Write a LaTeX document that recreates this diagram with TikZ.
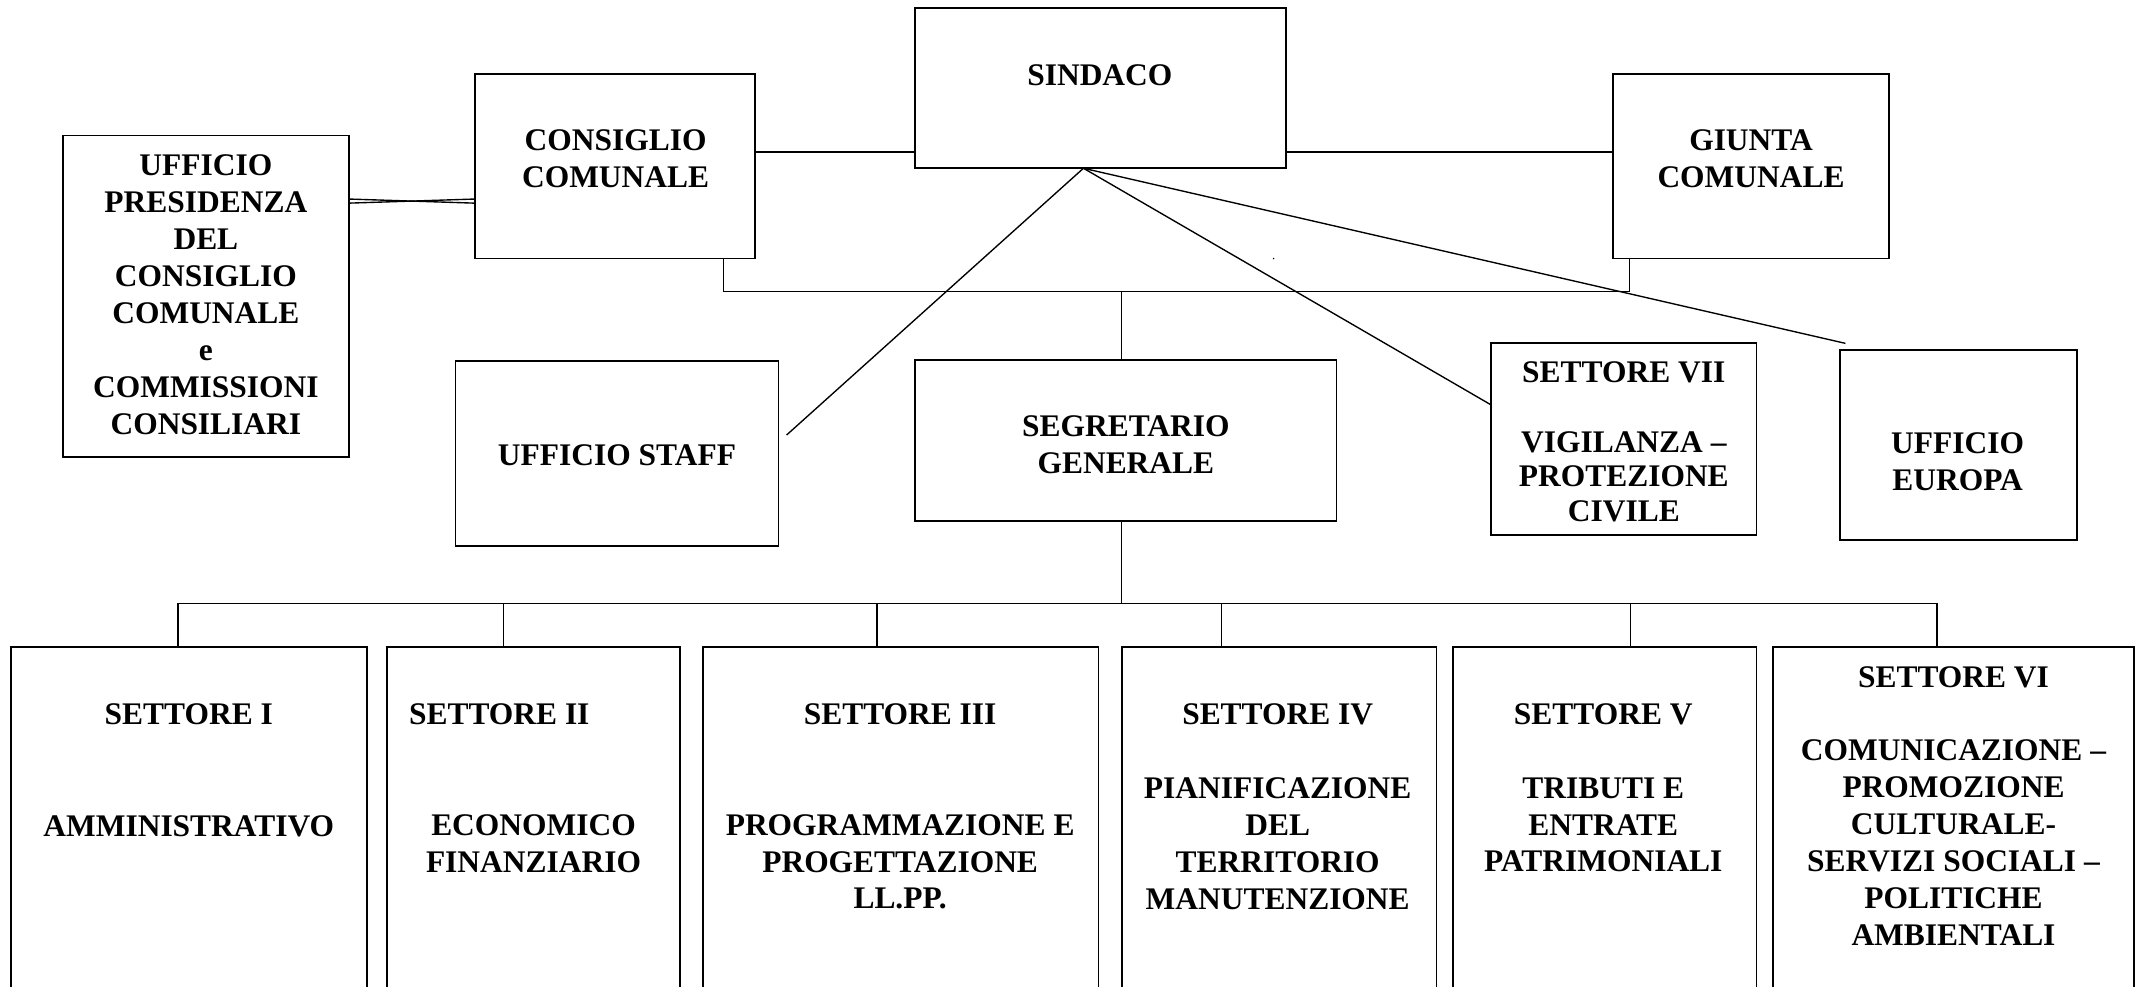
\documentclass[tikz,border=0pt]{standalone}
\usepackage{fontspec}
\setmainfont{Liberation Serif}
\usetikzlibrary{calc}
\begin{document}
\begin{tikzpicture}[x=1pt,y=-1pt,
  box/.style={draw=black,line width=1.3pt,rectangle,inner sep=0pt,outer sep=0pt,anchor=north west},
  txt/.style={font=\fontsize{23}{27}\selectfont\bfseries,align=center,inner sep=0pt},
  txtb/.style={font=\fontsize{23}{25.5}\selectfont\bfseries,align=center,inner sep=0pt},
  conn/.style={draw=black,line width=1pt}]
\clip (0,0) rectangle (1568,721.5);
\fill[white] (0,0) rectangle (1568,721.5);
% boxes
\node[box,minimum width=271pt,minimum height=117pt] (sindaco) at (669,6) {};
\node[box,minimum width=205pt,minimum height=135pt] (consiglio) at (347,54) {};
\node[box,minimum width=202pt,minimum height=135pt] (giunta) at (1179,54) {};
\node[box,minimum width=209pt,minimum height=235pt] (presidenza) at (46,99) {};
\node[box,minimum width=236pt,minimum height=135pt] (staff) at (333,264) {};
\node[box,minimum width=308pt,minimum height=118pt] (segretario) at (669,263) {};
\node[box,minimum width=194pt,minimum height=140pt] (s7) at (1090,251) {};
\node[box,minimum width=173pt,minimum height=139pt] (europa) at (1345,256) {};
\node[box,minimum width=260pt,minimum height=287pt] (s1) at (8,473) {};
\node[box,minimum width=214pt,minimum height=287pt] (s2) at (283,473) {};
\node[box,minimum width=289pt,minimum height=287pt] (s3) at (514,473) {};
\node[box,minimum width=230pt,minimum height=287pt] (s4) at (820,473) {};
\node[box,minimum width=222pt,minimum height=287pt] (s5) at (1062,473) {};
\node[box,minimum width=264pt,minimum height=287pt] (s6) at (1296,473) {};
% texts
\node[txt] (tsind) at (804,55) {SINDACO};
\node[txt] (tcons) at (450,116) {CONSIGLIO\\COMUNALE};
\node[txt] (tgiun) at (1280,116) {GIUNTA\\COMUNALE};
\node[txt] (tpres) at (150.5,215.5) {UFFICIO\\PRESIDENZA\\DEL\\CONSIGLIO\\COMUNALE\\e\\COMMISSIONI\\CONSILIARI};
\node[txt] (tstaff) at (451,333) {UFFICIO STAFF};
\node[txt] (tseg) at (823,325) {SEGRETARIO\\GENERALE};
\node[txt] (ts7h) at (1187,272) {SETTORE VII};
\node[txtb] (ts7b) at (1187,348.5) {VIGILANZA –\\PROTEZIONE\\CIVILE};
\node[txt] (teur) at (1431,337.5) {UFFICIO\\EUROPA};
\node[txt] (ts1h) at (138,522) {SETTORE I};
\node[txt] (ts1b) at (138,604) {AMMINISTRATIVO};
\node[txt] (ts2h) at (365,522) {SETTORE II};
\node[txt] (ts2b) at (390,616.5) {ECONOMICO\\FINANZIARIO};
\node[txt] (ts3h) at (658,522) {SETTORE III};
\node[txt] (ts3b) at (658,630) {PROGRAMMAZIONE E\\PROGETTAZIONE\\LL.PP.};
\node[txt] (ts4h) at (934,522) {SETTORE IV};
\node[txt] (ts4b) at (934,616.5) {PIANIFICAZIONE\\DEL\\TERRITORIO\\MANUTENZIONE};
\node[txt] (ts5h) at (1172,522) {SETTORE V};
\node[txt] (ts5b) at (1172,603) {TRIBUTI E\\ENTRATE\\PATRIMONIALI};
\node[txt] (ts6h) at (1428,495) {SETTORE VI};
\node[txt] (ts6b) at (1428,616) {COMUNICAZIONE –\\PROMOZIONE\\CULTURALE-\\SERVIZI SOCIALI –\\POLITICHE\\AMBIENTALI};
% helper coordinates
\coordinate (ysc) at (0,111);
\coordinate (yp1) at (0,145.5);
\coordinate (yp2) at (0,148.5);
\coordinate (cl) at (529,0);
\coordinate (cr) at (1191,0);
\coordinate (bu) at (820,213);
\coordinate (bl) at (820,441);
\coordinate (d1) at (130,441);
\coordinate (d2) at (368,441);
\coordinate (d3) at (641,441);
\coordinate (d4) at (893,441);
\coordinate (d5) at (1192,441);
\coordinate (d6) at (1416,441);
\coordinate (apx) at (792,0);
\coordinate (staffend) at (575,318);
\coordinate (s7end) at (1090,296);
\coordinate (eurend) at (1349,251);
% connectors
\draw[conn] (consiglio.east |- ysc) -- (sindaco.west |- ysc);
\draw[conn] (sindaco.east |- ysc) -- (giunta.west |- ysc);
\draw[conn] (presidenza.east |- yp1) -- (consiglio.west |- yp2);
\draw[conn] (presidenza.east |- yp2) -- (consiglio.west |- yp1);
\draw[conn] (consiglio.south -| cl) |- (bu);
\draw[conn] (giunta.south -| cr) |- (bu);
\draw[conn] (bu) -- (segretario.north -| bu);
\draw[conn] (segretario.south -| bl) -- (bl);
\draw[conn] (d1) -- (d6);
\draw[conn] (d1) -- (s1.north -| d1);
\draw[conn] (d2) -- (s2.north -| d2);
\draw[conn] (d3) -- (s3.north -| d3);
\draw[conn] (d4) -- (s4.north -| d4);
\draw[conn] (d5) -- (s5.north -| d5);
\draw[conn] (d6) -- (s6.north -| d6);
\draw[conn] (sindaco.south -| apx) -- (staffend);
\draw[conn] (sindaco.south -| apx) -- (s7end);
\draw[conn] (sindaco.south -| apx) -- (eurend);
\fill[black] (931,189) circle (0.6pt);
\end{tikzpicture}
\end{document}
